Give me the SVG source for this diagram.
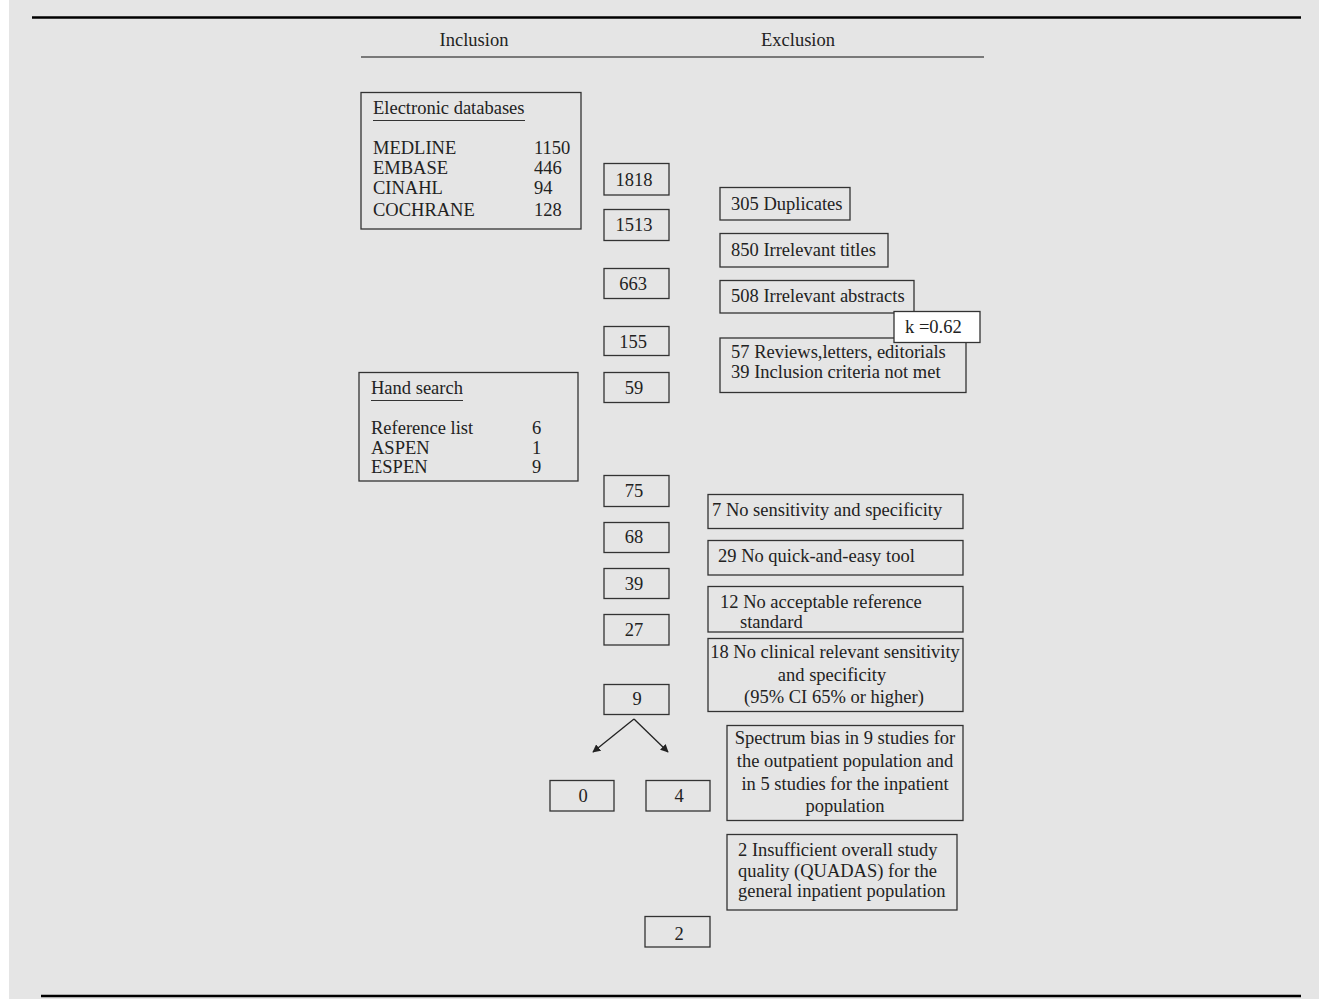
<svg xmlns="http://www.w3.org/2000/svg" width="1319" height="999" viewBox="0 0 1319 999">
<defs>
<style>
text{font-family:"Liberation Serif","Times New Roman",serif;font-size:18.5px;fill:#222}
.b{fill:none;stroke:#333;stroke-width:1.3}
.w{fill:#fff;stroke:#333;stroke-width:1.3}
.c{text-anchor:middle}
.rule{stroke:#000;stroke-width:2.5}
.conn{stroke:#222;stroke-width:1.3;fill:none}
</style>
<marker id="ah" viewBox="0 0 10 10" refX="9" refY="5" markerWidth="8" markerHeight="8" markerUnits="userSpaceOnUse" orient="auto"><path d="M0,0 L10,5 L0,10 z" fill="#222"/></marker>
</defs>
<rect x="9" y="0" width="1310" height="999" fill="#e5e5e5"/>
<line class="rule" x1="32" y1="17.5" x2="1301" y2="17.5"/>
<line class="rule" x1="41" y1="996" x2="1301" y2="996"/>
<g id="header">
<text x="474" y="46" class="c">Inclusion</text>
<text x="798" y="46" class="c">Exclusion</text>
<line x1="361" y1="57" x2="984" y2="57" stroke="#555" stroke-width="1.5"/>
</g>
<g id="electronic">
<rect class="b" x="361" y="92.5" width="220" height="136.5"/>
<text x="373" y="114">Electronic databases</text>
<line x1="373" y1="120.5" x2="525" y2="120.5" stroke="#333" stroke-width="1"/>
<text x="373" y="154">MEDLINE</text><text x="534" y="154">1150</text>
<text x="373" y="174">EMBASE</text><text x="534" y="174">446</text>
<text x="373" y="194">CINAHL</text><text x="534" y="194">94</text>
<text x="373" y="216">COCHRANE</text><text x="534" y="216">128</text>
</g>
<g id="handsearch">
<rect class="b" x="359" y="372.5" width="219" height="108.5"/>
<text x="371" y="394">Hand search</text>
<line x1="371" y1="400.5" x2="463" y2="400.5" stroke="#333" stroke-width="1"/>
<text x="371" y="434">Reference list</text><text x="532" y="434">6</text>
<text x="371" y="454">ASPEN</text><text x="532" y="454">1</text>
<text x="371" y="473">ESPEN</text><text x="532" y="473">9</text>
</g>
<g id="n1818"><rect class="b" x="604" y="163.5" width="65" height="31.5"/><text x="634" y="186" class="c">1818</text></g>
<g id="n1513"><rect class="b" x="604" y="209.5" width="65" height="31"/><text x="634" y="231" class="c">1513</text></g>
<g id="n663"><rect class="b" x="604" y="268.5" width="65" height="30"/><text x="633" y="290" class="c">663</text></g>
<g id="n155"><rect class="b" x="604" y="326.5" width="65" height="29"/><text x="633" y="348" class="c">155</text></g>
<g id="n59"><rect class="b" x="604" y="372.5" width="65" height="30"/><text x="634" y="394" class="c">59</text></g>
<g id="n75"><rect class="b" x="604" y="475.5" width="65" height="31"/><text x="634" y="497" class="c">75</text></g>
<g id="n68"><rect class="b" x="604" y="522.5" width="65" height="30"/><text x="634" y="543" class="c">68</text></g>
<g id="n39"><rect class="b" x="604" y="568.5" width="65" height="30"/><text x="634" y="590" class="c">39</text></g>
<g id="n27"><rect class="b" x="604" y="614.5" width="65" height="30.5"/><text x="634" y="636" class="c">27</text></g>
<g id="n9"><rect class="b" x="604" y="684.5" width="65" height="30"/><text x="637" y="705" class="c">9</text></g>
<g id="n0"><rect class="b" x="550" y="780.5" width="64" height="30.5"/><text x="583" y="802" class="c">0</text></g>
<g id="n4"><rect class="b" x="646" y="780.5" width="64" height="30.5"/><text x="679" y="802" class="c">4</text></g>
<g id="n2"><rect class="b" x="645" y="916.5" width="65" height="30.5"/><text x="679" y="940" class="c">2</text></g>
<g id="ex305"><rect class="b" x="720" y="187.5" width="130" height="32.5"/><text x="731" y="210">305 Duplicates</text></g>
<g id="ex850"><rect class="b" x="720" y="233.5" width="168" height="33.5"/><text x="731" y="256">850 Irrelevant titles</text></g>
<g id="ex508"><rect class="b" x="720" y="280.5" width="194" height="32.5"/><text x="731" y="302">508 Irrelevant abstracts</text></g>
<g id="ex57"><rect class="b" x="720" y="338" width="246" height="54.5"/><text x="731" y="358">57 Reviews,letters, editorials</text><text x="731" y="378">39 Inclusion criteria not met</text></g>
<g id="kappa"><rect class="w" x="894" y="311.5" width="86" height="31"/><text x="905" y="333">k =0.62</text></g>
<g id="ex7"><rect class="b" x="708" y="494.5" width="255" height="34"/><text x="712" y="516">7 No sensitivity and specificity</text></g>
<g id="ex29"><rect class="b" x="708" y="540.5" width="255" height="34.5"/><text x="718" y="562">29 No quick-and-easy tool</text></g>
<g id="ex12"><rect class="b" x="708" y="586.5" width="255" height="45.5"/><text x="720" y="608">12 No acceptable reference</text><text x="740" y="628">standard</text></g>
<g id="ex18"><rect class="b" x="708" y="638.5" width="255" height="73"/><text x="835" y="658" class="c">18 No clinical relevant sensitivity</text><text x="832" y="681" class="c">and specificity</text><text x="834" y="703" class="c">(95% CI 65% or higher)</text></g>
<g id="exspectrum"><rect class="b" x="727" y="725.5" width="236" height="95"/><text x="845" y="744" class="c">Spectrum bias in 9 studies for</text><text x="845" y="767" class="c">the outpatient population and</text><text x="845" y="790" class="c">in 5 studies for the inpatient</text><text x="845" y="812" class="c">population</text></g>
<g id="exquadas"><rect class="b" x="727" y="834.5" width="230" height="75.5"/><text x="738" y="856">2 Insufficient overall study</text><text x="738" y="877">quality (QUADAS) for the</text><text x="738" y="897">general inpatient population</text></g>
<g id="connectors">
<line class="conn" x1="634" y1="719" x2="593" y2="752" marker-end="url(#ah)"/>
<line class="conn" x1="634" y1="719" x2="668" y2="752" marker-end="url(#ah)"/>
</g>
</svg>
